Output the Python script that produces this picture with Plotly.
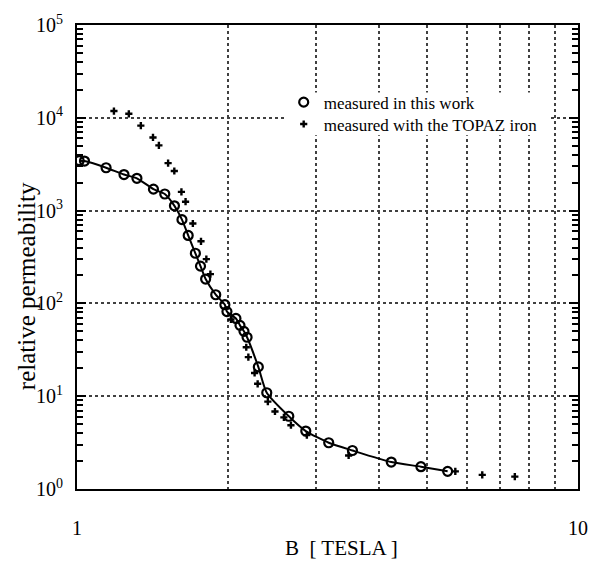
import plotly.graph_objects as go

# measured in this work (open circles)
b_work = [1.01, 1.035, 1.143, 1.241, 1.317, 1.421, 1.497, 1.565, 1.620, 1.667, 1.723,
          1.764, 1.806, 1.892, 1.973, 1.992, 2.076, 2.115, 2.154, 2.185, 2.301, 2.392,
          2.647, 2.862, 3.180, 3.546, 4.239, 4.858, 5.493]
mu_work = [3450, 3420, 2897, 2447, 2228, 1703, 1510, 1126, 799, 540, 347,
           252, 183, 124, 96.8, 81.6, 68.8, 58, 50, 43.2, 20.7, 10.9,
           6.08, 4.21, 3.15, 2.60, 1.95, 1.74, 1.55]

# measured with the TOPAZ iron (pluses)
b_topaz = [1.185, 1.269, 1.341, 1.418, 1.457, 1.520, 1.564, 1.616, 1.647, 1.703,
           1.768, 1.812, 1.846, 2.029, 2.177, 2.198, 2.262, 2.294, 2.404, 2.484,
           2.588, 2.673, 2.876, 3.485, 5.69, 6.44, 7.48]
mu_topaz = [11830, 11040, 8230, 6140, 5050, 3250, 2670, 1592, 1247, 726,
            467, 300, 207, 67.1, 33.7, 26.4, 17.8, 13.6, 8.74, 6.84,
            5.91, 4.87, 3.81, 2.30, 1.55, 1.42, 1.36]

x_tickvals = [1, 10]
x_ticktext = ["1", "10"]
y_tickvals = [1, 10, 100, 1000, 10000, 100000]
y_ticktext = ["10<sup>0</sup>", "10<sup>1</sup>", "10<sup>2</sup>",
              "10<sup>3</sup>", "10<sup>4</sup>", "10<sup>5</sup>"]
y_minor_vals = [m * 10 ** d for d in range(5) for m in range(2, 10)]
x_minor_vals = list(range(2, 10))

FONT = "Liberation Serif"
GRID = "#404040"

L, R, T, B = 77, 14, 22, 84
W, H = 600, 573
pw, ph = W - L - R, H - T - B


def px_x(x):
    return (x - L) / pw


def px_y(y):
    return (H - B - y) / ph


fig = go.Figure()
fig.add_trace(go.Scatter(x=b_work, y=mu_work, mode="lines",
                         line=dict(color="black", width=2, shape="spline", smoothing=0.6),
                         showlegend=False, hoverinfo="skip"))
fig.add_trace(go.Scatter(x=b_work, y=mu_work, mode="markers", name="measured in this work",
                         legend="legend",
                         marker=dict(symbol="circle-open", size=9, color="black",
                                     line=dict(width=2.2, color="black"))))
fig.add_trace(go.Scatter(x=b_topaz, y=mu_topaz, mode="markers", name="measured with the TOPAZ iron",
                         legend="legend2",
                         marker=dict(symbol="cross", size=6, color="black", line=dict(width=0))))

leg_common = dict(xanchor="left", yanchor="top", bgcolor="rgba(0,0,0,0)",
                  font=dict(family=FONT, size=17), itemwidth=30)

fig.update_layout(
    width=W, height=H,
    margin=dict(l=L, r=R, t=T, b=B),
    paper_bgcolor="white", plot_bgcolor="white",
    font=dict(family=FONT, color="black", size=18),
    legend=dict(x=px_x(287), y=px_y(82), **leg_common),
    legend2=dict(x=px_x(287), y=px_y(104), **leg_common),
    shapes=[dict(type="rect", xref="paper", yref="paper", layer="above",
                 x0=px_x(290), x1=px_x(556), y0=px_y(90), y1=px_y(133),
                 fillcolor="white", line=dict(width=0))],
    xaxis=dict(type="log", range=[0, 1], tickvals=x_tickvals, ticktext=x_ticktext,
               showline=True, linecolor="black", linewidth=2, mirror=True,
               ticks="", showgrid=False, zeroline=False, ticklabelstandoff=20,
               tickfont=dict(family=FONT, size=20),
               minor=dict(tickmode="array", tickvals=x_minor_vals, showgrid=True,
                          gridcolor=GRID, gridwidth=1.5, griddash="dot", ticks="")),
    yaxis=dict(type="log", range=[0, 5], tickvals=y_tickvals, ticktext=y_ticktext,
               showline=True, linecolor="black", linewidth=2, mirror="allticks",
               ticks="inside", ticklen=9, tickwidth=1.5, tickcolor="black",
               showgrid=True, gridcolor=GRID, gridwidth=1.5, griddash="dot", zeroline=False,
               tickfont=dict(family=FONT, size=20), ticklabelstandoff=8,
               minor=dict(tickmode="array", tickvals=y_minor_vals, ticks="inside",
                          ticklen=6, tickwidth=1.5, tickcolor="black", showgrid=False)),
    annotations=[
        dict(text="relative permeability", xref="paper", yref="paper",
             x=px_x(25), y=px_y(285), xanchor="center", yanchor="middle",
             showarrow=False, textangle=-90, font=dict(family=FONT, size=25)),
        dict(text="B&nbsp;&nbsp;[ TESLA ]", xref="paper", yref="paper",
             x=px_x(346), y=px_y(548), xanchor="center", yanchor="middle",
             showarrow=False, font=dict(family=FONT, size=21)),
    ],
)

fig.write_html("out.html")
